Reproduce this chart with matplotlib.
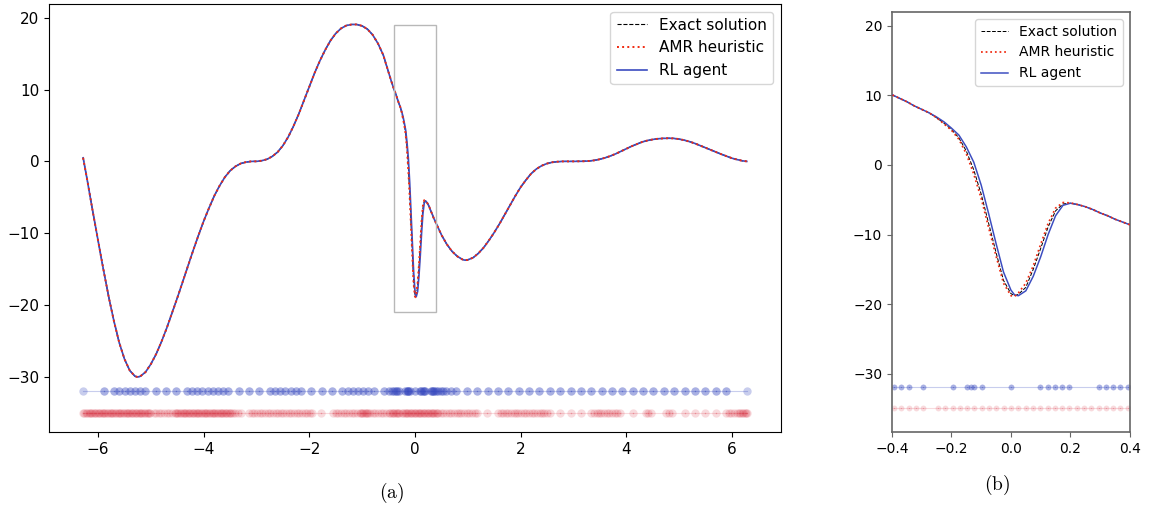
import matplotlib
matplotlib.use("Agg")
import matplotlib.pyplot as plt
from matplotlib.patches import Rectangle

plt.rcParams["mathtext.fontset"] = "cm"

# curve left of the zoom window (all three solutions coincide here)
x_left = [-6.283, -6.2, -6.1, -6.0, -5.9, -5.8, -5.7, -5.6, -5.5, -5.4, -5.3, -5.25, -5.2,
          -5.1, -5.0, -4.9, -4.8, -4.7, -4.6, -4.5, -4.4, -4.3, -4.2, -4.1, -4.0, -3.9,
          -3.8, -3.7, -3.6, -3.5, -3.4, -3.3, -3.2, -3.1, -3.0, -2.9, -2.8, -2.7, -2.6,
          -2.5, -2.4, -2.3, -2.2, -2.1, -2.0, -1.9, -1.8, -1.7, -1.6, -1.5, -1.4, -1.3,
          -1.2, -1.1, -1.0, -0.9, -0.8, -0.7, -0.6, -0.5, -0.45]
y_left = [0.5, -2.8, -7.0, -11.0, -15.0, -18.8, -22.2, -25.2, -27.5, -29.1, -29.9, -30.0, -29.9,
          -29.3, -28.2, -26.8, -25.1, -23.2, -21.1, -19.0, -16.8, -14.6, -12.4, -10.3, -8.3, -6.5,
          -4.8, -3.4, -2.2, -1.3, -0.7, -0.3, -0.1, 0.0, 0.0, 0.1, 0.3, 0.7, 1.3,
          2.2, 3.4, 4.9, 6.6, 8.5, 10.4, 12.3, 14.0, 15.5, 16.8, 17.8, 18.5, 18.9,
          19.05, 19.05, 18.85, 18.4, 17.6, 16.4, 14.8, 12.4, 11.2]

# zoom window, where the three solutions differ slightly
x_win = [-0.4, -0.375, -0.35, -0.325, -0.3, -0.275, -0.25, -0.225, -0.2, -0.175, -0.15,
         -0.125, -0.1, -0.075, -0.05, -0.025, 0.0, 0.0125, 0.025, 0.05, 0.075, 0.1, 0.125,
         0.15, 0.175, 0.2, 0.225, 0.25, 0.275, 0.3, 0.325, 0.35, 0.375, 0.4]
exact_win = [10.1, 9.6, 9.1, 8.5, 8.0, 7.5, 6.8, 6.0, 5.1, 3.9, 2.0,
             -0.7, -4.2, -8.4, -12.6, -16.6, -18.5, -18.8, -18.6, -17.6, -15.0, -12.0, -8.9,
             -6.6, -5.6, -5.5, -5.7, -6.0, -6.4, -6.9, -7.3, -7.8, -8.2, -8.6]
amr_win = [10.1, 9.6, 9.1, 8.5, 8.0, 7.5, 6.8, 5.9, 5.0, 3.7, 1.6,
           -1.3, -4.8, -9.0, -13.1, -17.0, -18.8, -18.9, -18.4, -17.0, -14.5, -11.4, -8.4,
           -6.2, -5.4, -5.45, -5.7, -6.0, -6.4, -6.9, -7.3, -7.8, -8.2, -8.6]
rl_win = [10.1, 9.6, 9.1, 8.5, 8.0, 7.5, 6.9, 6.2, 5.3, 4.3, 2.6,
          0.4, -2.9, -7.0, -11.3, -15.4, -18.0, -18.7, -18.8, -18.1, -16.0, -13.2, -10.0,
          -7.3, -5.8, -5.5, -5.7, -6.0, -6.4, -6.9, -7.3, -7.8, -8.2, -8.6]

# curve right of the zoom window
x_right = [0.45, 0.5, 0.6, 0.7, 0.8, 0.9, 0.95, 1.0, 1.1, 1.2, 1.3, 1.4, 1.5, 1.6, 1.7, 1.8,
           1.9, 2.0, 2.1, 2.2, 2.3, 2.4, 2.5, 2.6, 2.7, 2.8, 3.0, 3.2, 3.3, 3.4, 3.5, 3.6,
           3.7, 3.8, 3.9, 4.0, 4.1, 4.2, 4.3, 4.4, 4.5, 4.6, 4.7, 4.8, 4.9, 5.0, 5.1, 5.2,
           5.3, 5.4, 5.5, 5.6, 5.7, 5.8, 5.9, 6.0, 6.1, 6.2, 6.283]
y_right = [-9.4, -10.2, -11.5, -12.5, -13.2, -13.65, -13.75, -13.7, -13.4, -12.8, -12.0, -11.0,
           -9.9, -8.7, -7.4, -6.1, -4.8, -3.6, -2.6, -1.7, -1.05, -0.6, -0.3, -0.12, -0.04,
           0.0, 0.0, 0.02, 0.06, 0.15, 0.3, 0.5, 0.75, 1.05, 1.4, 1.75, 2.1, 2.4, 2.7, 2.9,
           3.05, 3.15, 3.2, 3.22, 3.2, 3.1, 2.95, 2.75, 2.5, 2.2, 1.9, 1.6, 1.3, 1.0, 0.72,
           0.45, 0.25, 0.08, 0.0]

# mesh nodes (RL agent)
rl_mesh = [-6.283, -5.890, -5.694, -5.596, -5.498, -5.400, -5.301, -5.203, -5.105, -4.909,
           -4.712, -4.516, -4.320, -4.222, -4.123, -4.025, -3.927, -3.829, -3.731, -3.633,
           -3.534, -3.338, -3.142, -2.945, -2.749, -2.651, -2.553, -2.454, -2.356, -2.258,
           -2.160, -1.963, -1.767, -1.571, -1.374, -1.276, -1.178, -1.080, -0.982, -0.884,
           -0.785, -0.589, -0.491, -0.442, -0.393, -0.368, -0.344, -0.295, -0.196, -0.147,
           -0.135, -0.123, -0.098, 0.0, 0.098, 0.123, 0.147, 0.172, 0.196, 0.295, 0.319,
           0.344, 0.368, 0.393, 0.442, 0.491, 0.540, 0.589, 0.687, 0.785, 0.982, 1.178,
           1.374, 1.571, 1.767, 1.963, 2.160, 2.356, 2.553, 2.749, 2.945, 3.142, 3.338,
           3.534, 3.731, 3.927, 4.123, 4.320, 4.516, 4.712, 4.909, 5.105, 5.301, 5.498,
           5.694, 5.890, 6.283]

# mesh nodes (AMR heuristic)
amr_mesh = [-6.28, -6.26, -6.23, -6.21, -6.18, -6.16, -6.13, -6.11, -6.08, -6.06, -6.03, -6.01,
            -5.98, -5.96, -5.93, -5.91, -5.88, -5.86, -5.83, -5.81, -5.78, -5.76, -5.73, -5.71,
            -5.68, -5.66, -5.63, -5.61, -5.58, -5.56, -5.53, -5.51, -5.48, -5.46, -5.43, -5.41,
            -5.38, -5.36, -5.33, -5.31, -5.28, -5.26, -5.23, -5.21, -5.18, -5.16, -5.13, -5.11,
            -5.08, -5.06, -5.03, -5.01, -4.95, -4.90, -4.85, -4.80, -4.75, -4.70, -4.65, -4.60,
            -4.55, -4.53, -4.50, -4.48, -4.45, -4.43, -4.40, -4.38, -4.35, -4.33, -4.30, -4.28,
            -4.25, -4.23, -4.20, -4.18, -4.15, -4.13, -4.10, -4.08, -4.05, -4.03, -4.00, -3.98,
            -3.95, -3.93, -3.90, -3.88, -3.85, -3.83, -3.80, -3.78, -3.75, -3.73, -3.70, -3.68,
            -3.65, -3.63, -3.60, -3.58, -3.55, -3.53, -3.50, -3.48, -3.45, -3.40, -3.35, -3.30,
            -3.14, -3.09, -3.04, -2.99, -2.94, -2.89, -2.84, -2.79, -2.74, -2.69, -2.64, -2.59,
            -2.54, -2.49, -2.44, -2.39, -2.34, -2.29, -2.24, -2.19, -2.14, -2.09, -2.04, -1.99,
            -1.94, -1.78, -1.55, -1.50, -1.45, -1.40, -1.35, -1.30, -1.25, -1.20, -1.15, -1.10,
            -1.05, -1.03, -1.00, -0.98, -0.95, -0.93, -0.90, -0.88, -0.85, -0.80, -0.75, -0.70,
            -0.65, -0.60, -0.55, -0.50, -0.47, -0.44, -0.42,
            -0.393, -0.368, -0.344, -0.319, -0.295, -0.245, -0.221, -0.196, -0.172, -0.147,
            -0.123, -0.098, -0.074, -0.049, -0.025, 0.0, 0.025, 0.049, 0.074, 0.098, 0.123,
            0.147, 0.172, 0.196, 0.221, 0.245, 0.270, 0.295, 0.319, 0.344, 0.368, 0.393,
            0.42, 0.44, 0.49, 0.54, 0.59, 0.64, 0.69, 0.74, 0.79, 0.84, 0.88, 0.93, 0.98, 1.03,
            1.08, 1.13, 1.18, 1.37, 1.57, 1.62, 1.67, 1.72, 1.77, 1.82, 1.87, 1.92, 1.96, 2.01,
            2.06, 2.11, 2.16, 2.21, 2.26, 2.31, 2.36, 2.41, 2.45, 2.50, 2.55, 2.75, 2.95, 3.14,
            3.34, 3.39, 3.44, 3.49, 3.53, 3.58, 3.63, 3.68, 3.73, 3.78, 3.83, 3.88, 4.12, 4.37,
            4.42, 4.47, 4.76, 4.81, 4.86, 5.11, 5.30, 5.50, 5.70, 5.89, 5.94, 5.99, 6.04, 6.09,
            6.14, 6.16, 6.19, 6.21, 6.24, 6.26, 6.28]

rl_level = -32
amr_level = -35
labels = ["Exact solution", "AMR heuristic", "RL agent"]

x_all = x_left + x_win + x_right
exact_all = y_left + exact_win + y_right
amr_all = y_left + amr_win + y_right
rl_all = y_left + rl_win + y_right

BLUE = "#3b4cc0"
RED = "#d62738"


def draw(ax, ms, lw, fs):
    ax.plot(x_all, exact_all, "--", color="k", lw=lw * 0.8, label=labels[0], zorder=2)
    ax.plot(x_all, amr_all, ":", color="#f02a10", lw=lw * 1.4, label=labels[1], zorder=4)
    ax.plot(x_all, rl_all, "-", color=BLUE, lw=lw * 1.2, label=labels[2], zorder=3)

    # RL mesh: interior nodes are drawn twice, so they come out darker than the ends
    ys = [rl_level] * len(rl_mesh)
    ax.plot(rl_mesh, ys, "-o", color=BLUE, alpha=0.28, ms=ms, mew=0, lw=0.8)
    ax.plot(rl_mesh[1:-1], ys[1:-1], "o", color=BLUE, alpha=0.22, ms=ms, mew=0)
    ax.plot(rl_mesh[1:-1], ys[1:-1], ".", color=BLUE, alpha=0.5, ms=ms * 0.35, mew=0)

    ys = [amr_level] * len(amr_mesh)
    ax.plot(amr_mesh, ys, "-o", color=RED, alpha=0.17, ms=ms, mew=0, lw=0.8)
    ax.plot(amr_mesh, ys, ".", color=RED, alpha=0.3, ms=ms * 0.35, mew=0)

    ax.legend(loc="upper right", fontsize=fs)
    ax.tick_params(labelsize=fs)


fig = plt.figure(figsize=(11.49, 5.11), dpi=100)
ax1 = fig.add_axes([0.0426, 0.1546, 0.6371, 0.8376])
ax2 = fig.add_axes([0.7763, 0.1546, 0.2071, 0.8219])

draw(ax1, 6, 1.0, 11)
ax1.set_xlim(-6.93, 6.93)
ax1.set_ylim(-37.65, 21.9)
ax1.add_patch(Rectangle((-0.4, -21), 0.8, 40, fill=False, edgecolor="0.72", lw=1.0, zorder=5))

draw(ax2, 4.2, 0.9, 10)
ax2.set_xlim(-0.4, 0.4)
ax2.set_ylim(-38.4, 22.0)
ax2.set_xticks([-0.4, -0.2, 0.0, 0.2, 0.4])
for sp in ax2.spines.values():
    sp.set_color("0.4")
    sp.set_linewidth(1.2)
ax2.tick_params(color="0.4")

fig.text(0.341, 0.035, r"$\mathrm{(a)}$", ha="center", va="center", fontsize=14)
fig.text(0.868, 0.051, r"$\mathrm{(b)}$", ha="center", va="center", fontsize=14)

fig.savefig("out.png", dpi=100)
